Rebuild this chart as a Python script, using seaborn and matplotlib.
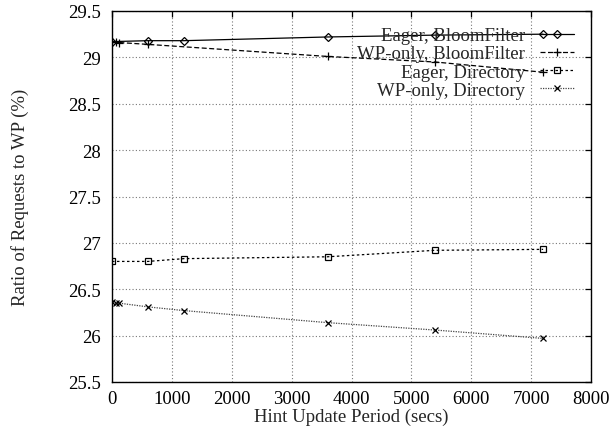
import matplotlib
matplotlib.use("Agg")
import matplotlib.pyplot as plt
import seaborn as sns
import pandas as pd

# Hint update period (secs) and ratio of requests sent to WP (%)
eager_bf_x = [0, 600, 1200, 3600, 5400, 7200]
eager_bf_y = [29.17, 29.18, 29.18, 29.22, 29.24, 29.25]

wp_bf_x = [0, 60, 120, 600, 3600, 5400, 7200]
wp_bf_y = [29.17, 29.17, 29.16, 29.14, 29.01, 28.95, 28.84]

eager_dir_x = [0, 600, 1200, 3600, 5400, 7200]
eager_dir_y = [26.80, 26.80, 26.83, 26.85, 26.92, 26.93]

wp_dir_x = [0, 60, 120, 600, 1200, 3600, 5400, 7200]
wp_dir_y = [26.36, 26.35, 26.35, 26.31, 26.27, 26.14, 26.06, 25.97]

labels = ["Eager, BloomFilter", "WP-only, BloomFilter",
          "Eager, Directory", "WP-only, Directory"]

x_ticks = [0, 1000, 2000, 3000, 4000, 5000, 6000, 7000, 8000]
y_ticks = [25.5, 26, 26.5, 27, 27.5, 28, 28.5, 29, 29.5]

FS = 13.5

sns.set_style("white")
plt.rcParams["font.family"] = ["Liberation Serif", "DejaVu Serif"]

fig = plt.figure(figsize=(6.13, 4.35), dpi=100)
ax = fig.add_axes([112 / 613, 1 - 383 / 435, (591 - 112) / 613, (383 - 12) / 435])

styles = [
    dict(color="black", linestyle="-", marker="D", markersize=4, fillstyle="none",
         markeredgecolor="black", markeredgewidth=0.9, linewidth=0.9),
    dict(color="black", linestyle=(0, (4, 2)), marker="+", markersize=6,
         markeredgecolor="black", markeredgewidth=0.9, linewidth=0.9),
    dict(color="black", linestyle=(0, (2, 2)), marker="s", markersize=5, fillstyle="none",
         markeredgecolor="black", markeredgewidth=0.9, linewidth=0.9),
    dict(color="#444444", linestyle=(0, (1, 1)), marker="x", markersize=4.5,
         markeredgecolor="black", markeredgewidth=0.9, linewidth=0.9),
]

series = [(eager_bf_x, eager_bf_y), (wp_bf_x, wp_bf_y),
          (eager_dir_x, eager_dir_y), (wp_dir_x, wp_dir_y)]

for (xs, ys), lab, st in zip(series, labels, styles):
    df = pd.DataFrame({"period": xs, "ratio": ys})
    sns.lineplot(data=df, x="period", y="ratio", ax=ax, label=lab, **st)

ax.set_xlim(0, 8000)
ax.set_ylim(25.5, 29.5)
ax.set_xticks(x_ticks)
ax.set_yticks(y_ticks)
ax.set_xticklabels([str(v) for v in x_ticks])
ax.set_yticklabels([f"{v:g}" for v in y_ticks])

ax.grid(True, linestyle=(0, (1, 2)), color="#777777", linewidth=0.8)
ax.set_axisbelow(True)
for sp in ax.spines.values():
    sp.set_color("black")
    sp.set_linewidth(1.0)
ax.tick_params(direction="in", length=4, width=0.9, top=True, right=True,
               labelsize=FS, colors="black")
ax.tick_params(axis="x", pad=6)
ax.tick_params(axis="y", pad=8)

ax.set_xlabel("Hint Update Period (secs)", fontsize=FS, labelpad=0)
ax.set_ylabel("Ratio of Requests to WP (%)", fontsize=FS, labelpad=28)

leg = ax.legend(loc="upper right", bbox_to_anchor=(0.9645, 0.957),
                frameon=False, markerfirst=False, fontsize=FS,
                handlelength=1.8, handletextpad=0.8, labelspacing=0.06,
                borderpad=0, borderaxespad=0, numpoints=1)

fig.savefig("out.png", dpi=100, facecolor="white")
